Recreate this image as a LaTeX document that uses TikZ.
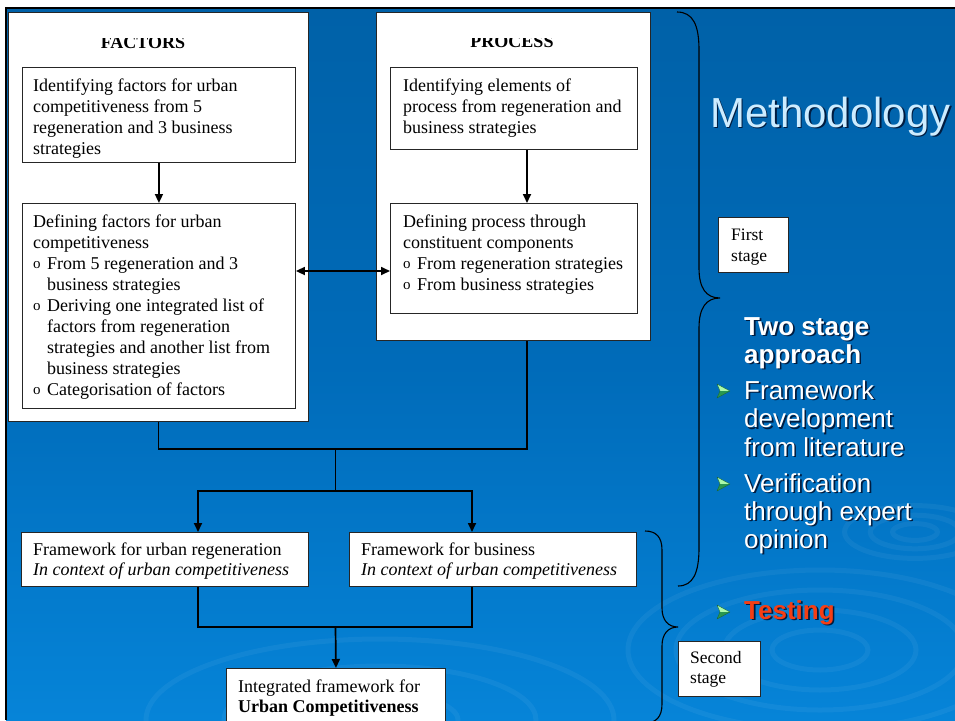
\documentclass[tikz,border=0pt]{standalone}
\usepackage{fontspec}
\setmainfont{Liberation Serif}
\newfontfamily\arialf{Liberation Sans}
\usetikzlibrary{arrows.meta,calc}

\definecolor{bgtop}{RGB}{0,97,168}
\definecolor{bgmid}{RGB}{0,107,185}
\definecolor{bgbot}{RGB}{6,132,216}
\definecolor{methc}{RGB}{204,236,255}
\definecolor{shad}{RGB}{0,28,64}
\definecolor{testc}{RGB}{245,62,20}
\definecolor{bulg}{RGB}{170,250,170}
\definecolor{buld}{RGB}{40,150,80}

\newcommand\mlines[2]{\vtop{\baselineskip=#1\relax\lineskiplimit=-100pt\lineskip=0pt #2}}
\newcommand\oneline[1]{\hbox{#1}}
\newcommand\bl[1]{\hbox{\hbox to 14pt{\raisebox{0.3pt}{\fontsize{15}{15}\selectfont o}\hss}#1}}
\newcommand\ct[1]{\hbox{\hskip14pt #1}}
% text with a drop shadow, drawn as one text
\newcommand\shadowed[1]{\rlap{\hskip1.6pt\lower1.6pt\hbox{\color{shad}#1}}#1}
\newcommand\bulletarrow[2]{%
  \fill[bulg] (#1,#2-7) -- (#1+13,#2) -- (#1+3,#2) -- cycle;
  \fill[buld] (#1+3,#2) -- (#1+13,#2) -- (#1,#2+7) -- cycle;
  \draw[buld!70!black, line width=0.4pt, line join=round] (#1,#2-7) -- (#1+13,#2) -- (#1,#2+7) -- (#1+3,#2) -- cycle;}

\tikzset{
  box/.style={draw=black!85, line width=0.9pt, fill=white, inner sep=0pt, anchor=north west},
  txt/.style={inner sep=0pt, anchor=base west, font=\fontsize{18}{21}\selectfont},
  conn/.style={draw=black, line width=1.3pt},
  arr/.style={draw=black, line width=1.7pt, -{Triangle[length=9pt,width=8pt]}},
  dbl/.style={draw=black, line width=1.7pt, {Triangle[length=9pt,width=8pt]}-{Triangle[length=9pt,width=8pt]}},
  brc/.style={draw=black, line width=1.1pt},
  rt/.style={inner sep=0pt, anchor=base west, text=white, font=\arialf\fontsize{26}{28.5}\selectfont},
  ripple/.style={draw=white, opacity=0.05, line width=5pt}
}

\begin{document}
\begin{tikzpicture}[x=1pt,y=-1pt]
\useasboundingbox (0,0) rectangle (955,720);
\clip (0,0) rectangle (955,720);
% background
\fill[white] (0,0) rectangle (955,720);
\shade[top color=bgtop, bottom color=bgbot, middle color=bgmid] (6,8) rectangle (955,720);
% ripples
\foreach \r in {14,28,44} {\draw[ripple] (915,532) ellipse ({\r*1.6} and {\r*0.6});}
\foreach \r in {40,80,120,160} {\draw[ripple] (820,650) ellipse ({\r*1.2} and {\r*0.5});}
\foreach \r in {60,120,180} {\draw[ripple] (380,720) ellipse ({\r*1.3} and {\r*0.45});}
% frame lines
\draw[line width=2.2pt] (6,720) -- (6,8) -- (955,8);

% outer boxes
\node[box, minimum width=300pt, minimum height=409pt] (F) at (8,12) {};
\node[box, minimum width=274pt, minimum height=328pt] (P) at (376,12) {};

\begin{scope}
\clip (8,38.5) rectangle (650,60);
\node[inner sep=0pt, anchor=base, font=\bfseries\fontsize{18}{21}\selectfont] (ftitle) at (143,48) {FACTORS};
\node[inner sep=0pt, anchor=base, font=\bfseries\fontsize{18}{21}\selectfont] (ptitle) at (512,47.5) {PROCESS};
\end{scope}

% inner boxes
\node[box, minimum width=273pt, minimum height=95pt] (b1) at (22,67) {};
\node[box, minimum width=273pt, minimum height=205pt] (b2) at (22,203) {};
\node[box, minimum width=247pt, minimum height=82pt] (b3) at (390,67) {};
\node[box, minimum width=247pt, minimum height=110pt] (b4) at (390,203) {};
\node[box, minimum width=287pt, minimum height=54pt] (b5) at (21,532) {};
\node[box, minimum width=287pt, minimum height=54pt] (b6) at (349,532) {};
\node[box, minimum width=219pt, minimum height=70pt] (b7) at (226,668) {};
\node[box, minimum width=70pt, minimum height=55pt] (fs) at (718,217) {};
\node[box, minimum width=82pt, minimum height=55pt] (ss) at (678,641) {};

% box texts
\node[txt] (t1) at (33,91) {\mlines{21pt}{\oneline{Identifying factors for urban}\oneline{competitiveness from 5}\oneline{regeneration and 3 business}\oneline{strategies}}};
\node[txt] (t2) at (33,227) {\mlines{21pt}{\oneline{Defining factors for urban}\oneline{competitiveness}\bl{From 5 regeneration and 3}\ct{business strategies}\bl{Deriving one integrated list of}\ct{factors from regeneration}\ct{strategies and another list from}\ct{business strategies}\bl{Categorisation of factors}}};
\node[txt] (t3) at (403,91) {\mlines{21pt}{\oneline{Identifying elements of}\oneline{process from regeneration and}\oneline{business strategies}}};
\node[txt] (t4) at (403,227) {\mlines{21pt}{\oneline{Defining process through}\oneline{constituent components}\bl{From regeneration strategies}\bl{From business strategies}}};
\node[txt] (t5) at (33,555) {\mlines{20pt}{\oneline{Framework for urban regeneration}\oneline{\itshape In context of urban competitiveness}}};
\node[txt] (t6) at (361,555) {\mlines{20pt}{\oneline{Framework for business}\oneline{\itshape In context of urban competitiveness}}};
\node[txt] (t7) at (238,692) {\mlines{20pt}{\oneline{Integrated framework for}\oneline{\bfseries Urban Competitiveness}}};
\node[txt, font=\fontsize{17.5}{21}\selectfont] (t8) at (731,240) {\mlines{21pt}{\oneline{First}\oneline{stage}}};
\node[txt, font=\fontsize{17.5}{20}\selectfont] (t9) at (690,663) {\mlines{20.5pt}{\oneline{Second}\oneline{stage}}};

% connector helper coordinates
\coordinate (pa) at (527,0);
\coordinate (qa) at (198,0);
\coordinate (qb) at (472,0);
\coordinate (da) at (0,271);
\coordinate (j1) at (335.5,449);
\coordinate (j2) at (335.5,491);
\coordinate (j3) at (335.5,627);

% connectors
\draw[arr] (b1.south) -- (b2.north);
\draw[arr] (b3.south -| pa) -- (b4.north -| pa);
\draw[dbl] (b2.east |- da) -- (b4.west |- da);
\draw[conn] (F.south) -- (F.south |- j1) -- (pa |- j1) -- (P.south -| pa);
\draw[conn] (j1) -- (j2);
\draw[arr] (j2) -| (b5.north -| qa);
\draw[arr] (j2) -| (b6.north -| qb);
\draw[conn] (b5.south -| qa) |- (j3);
\draw[conn] (b6.south -| qb) |- (j3);
\draw[arr] (j3) -- (b7.north);

% braces
\draw[brc] (677,12) .. controls (693,12) and (699,25) .. (699,50) -- (699,268) .. controls (699,288) and (706,298) .. (720,298) .. controls (706,298) and (699,308) .. (699,328) -- (699,548) .. controls (699,573) and (693,586) .. (678,586);
\draw[brc] (645,531) .. controls (656,531) and (662,537) .. (662,550) -- (662,608) .. controls (662,620) and (668,627) .. (678,627) .. controls (668,627) and (662,634) .. (662,646) -- (662,704) .. controls (662,717) and (656,723) .. (645,723);

% right-hand texts
\node[inner sep=0pt, anchor=base west, text=methc, font=\arialf\fontsize{42}{48}\selectfont] (meth) at (710,127) {\shadowed{Methodology}};

\node[rt, font=\arialf\bfseries\fontsize{26}{28}\selectfont] (two) at (744,335) {\shadowed{\mlines{28pt}{\oneline{Two stage}\oneline{approach}}}};
\node[rt] (fw) at (744,399) {\shadowed{\mlines{28.5pt}{\oneline{Framework}\oneline{development}\oneline{from literature}}}};
\node[rt] (ver) at (744,492) {\shadowed{\mlines{28pt}{\oneline{Verification}\oneline{through expert}\oneline{opinion}}}};
\node[rt, text=testc, font=\arialf\bfseries\fontsize{26}{28}\selectfont] (test) at (744,619) {\shadowed{Testing}};

\bulletarrow{717}{391}
\bulletarrow{717}{484}
\bulletarrow{717}{612}
\end{tikzpicture}
\end{document}
